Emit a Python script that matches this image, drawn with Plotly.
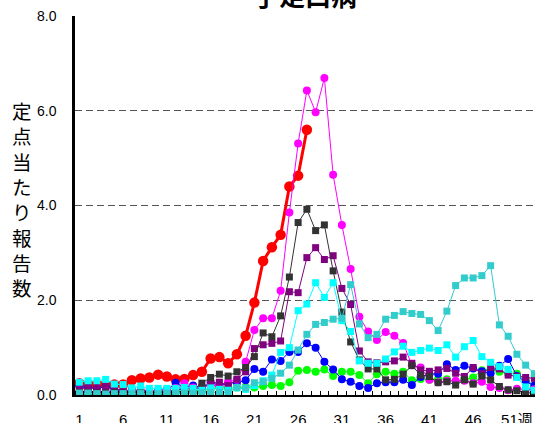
import plotly.graph_objects as go

weeks = list(range(1, 54))
tick_weeks = [1, 6, 11, 16, 21, 26, 31, 36, 41, 46, 51]
tick_labels = ["1", "6", "11", "16", "21", "26", "31", "36", "41", "46", "51週"]
y_ticks = [0, 2, 4, 6, 8]
y_tick_labels = ["0.0", "2.0", "4.0", "6.0", "8.0"]

red = [0.25, 0.22, 0.22, 0.22, 0.22, 0.22, 0.31, 0.35, 0.37, 0.43, 0.39, 0.33,
       0.34, 0.42, 0.49, 0.77, 0.80, 0.67, 0.86, 1.25, 1.95, 2.83, 3.12, 3.38,
       4.40, 4.63, 5.60]

magenta = [0.08, 0.08, 0.06, 0.08, 0.06, 0.08, 0.10, 0.10, 0.08, 0.10, 0.12, 0.15,
           0.25, 0.16, 0.18, 0.20, 0.21, 0.28, 0.32, 0.70, 1.37, 1.62, 1.62, 2.20,
           3.85, 5.31, 6.43, 5.97, 6.69, 4.65, 3.59, 2.66, 1.65, 1.34, 1.16, 1.33,
           1.25, 1.10, 0.63, 0.58, 0.32, 0.27, 0.30, 0.30, 0.30, 0.25, 0.28, 0.17,
           0.15, 0.10, 0.13, 0.12, 0.12]

darkgray = [0.05, 0.05, 0.04, 0.04, 0.05, 0.04, 0.04, 0.05, 0.04, 0.05, 0.05, 0.06,
            0.07, 0.10, 0.25, 0.37, 0.44, 0.40, 0.49, 0.58, 0.81, 1.31, 1.23, 1.67,
            2.49, 3.64, 3.92, 3.47, 3.59, 2.62, 1.75, 1.12, 0.74, 0.55, 0.55, 0.32,
            0.33, 0.44, 0.62, 0.42, 0.39, 0.26, 0.28, 0.21, 0.32, 0.23, 0.40, 0.32,
            0.18, 0.11, 0.09, 0.05, 0.04]

purple = [0.12, 0.15, 0.15, 0.18, 0.13, 0.10, 0.10, 0.09, 0.08, 0.08, 0.09, 0.10,
          0.13, 0.13, 0.15, 0.25, 0.27, 0.20, 0.33, 0.49, 0.98, 1.06, 1.09, 1.14,
          2.18, 2.16, 2.90, 3.11, 2.86, 2.94, 2.25, 1.91, 0.93, 0.70, 0.68, 0.70,
          0.72, 0.80, 0.67, 0.53, 0.50, 0.53, 0.56, 0.46, 0.39, 0.58, 0.45, 0.58,
          0.55, 0.42, 0.39, 0.37, 0.35]

cyan = [0.27, 0.30, 0.30, 0.33, 0.23, 0.22, 0.15, 0.19, 0.14, 0.14, 0.14, 0.14,
        0.16, 0.14, 0.10, 0.15, 0.12, 0.10, 0.15, 0.12, 0.20, 0.30, 0.42, 0.90,
        1.00, 1.78, 1.92, 2.37, 2.06, 2.37, 1.57, 1.34, 0.72, 0.67, 0.67, 0.76,
        0.91, 1.03, 0.90, 0.94, 0.99, 0.94, 1.06, 0.80, 1.02, 1.15, 0.81, 0.69,
        0.60, 0.54, 0.37, 0.17, 0.10]

teal = [0.04, 0.04, 0.03, 0.02, 0.03, 0.03, 0.03, 0.03, 0.02, 0.03, 0.04, 0.04,
        0.04, 0.04, 0.05, 0.05, 0.06, 0.05, 0.16, 0.15, 0.26, 0.28, 0.35, 0.46,
        0.63, 0.95, 1.28, 1.49, 1.53, 1.60, 1.62, 2.33, 1.50, 1.21, 1.28, 1.60,
        1.68, 1.76, 1.72, 1.70, 1.57, 1.36, 1.77, 2.31, 2.47, 2.47, 2.52, 2.73,
        1.48, 1.24, 0.86, 0.63, 0.45]

blue = [0.18, 0.15, 0.14, 0.18, 0.10, 0.08, 0.06, 0.06, 0.05, 0.06, 0.10, 0.26,
        0.15, 0.20, 0.15, 0.27, 0.20, 0.25, 0.26, 0.31, 0.55, 0.49, 0.75, 0.72,
        0.91, 0.91, 1.09, 1.00, 0.70, 0.54, 0.33, 0.28, 0.19, 0.15, 0.25, 0.27,
        0.27, 0.32, 0.21, 0.38, 0.44, 0.45, 0.65, 0.53, 0.62, 0.56, 0.50, 0.46,
        0.62, 0.76, 0.40, 0.28, 0.20]

green = [0.02, 0.02, 0.02, 0.02, 0.02, 0.02, 0.03, 0.03, 0.03, 0.04, 0.05, 0.06,
         0.07, 0.08, 0.10, 0.12, 0.16, 0.14, 0.16, 0.17, 0.16, 0.19, 0.21, 0.19,
         0.27, 0.51, 0.53, 0.49, 0.54, 0.40, 0.49, 0.49, 0.42, 0.25, 0.44, 0.49,
         0.45, 0.49, 0.31, 0.34, 0.32, 0.34, 0.33, 0.28, 0.33, 0.37, 0.52, 0.55,
         0.49, 0.45, 0.45, 0.34, 0.19]

y_title_chars = list("定点当たり報告数")

fig = go.Figure()

thin_series = [
    (green, "#00FF00", "circle", 8),
    (blue, "#0000FF", "circle", 8),
    (magenta, "#FF00FF", "circle", 8),
    (purple, "#800080", "square", 7),
    (darkgray, "#333333", "square", 7),
    (cyan, "#00FFFF", "square", 7),
    (teal, "#33CCCC", "square", 7),
]

fig.add_trace(go.Scatter(
    x=weeks[:len(red)], y=red, mode="lines+markers",
    line=dict(color="#FF0000", width=3),
    marker=dict(symbol="circle", size=10.5, color="#FF0000"),
    showlegend=False, hoverinfo="skip"))

for vals, col, sym, sz in thin_series:
    fig.add_trace(go.Scatter(
        x=weeks[:len(vals)], y=vals, mode="lines+markers",
        line=dict(color=col, width=1),
        marker=dict(symbol=sym, size=sz, color=col),
        showlegend=False, hoverinfo="skip"))

fig.update_layout(
    width=535, height=423,
    margin=dict(l=75, r=0, t=16, b=28),
    paper_bgcolor="white", plot_bgcolor="white",
    font=dict(family="Liberation Sans, Arial, 'Noto Sans CJK JP', sans-serif", color="black"),
    xaxis=dict(
        range=[0.5, 53.07], showgrid=False, zeroline=False, automargin=False,
        showline=True, linecolor="black", linewidth=2,
        tickmode="array", tickvals=tick_weeks, ticktext=tick_labels,
        ticks="", tickfont=dict(size=15, color="black"),
        ticklabelstandoff=10,
        minor=dict(ticks="inside", ticklen=4, tickcolor="black", tickwidth=1,
                   tick0=0.5, dtick=1, showgrid=False),
    ),
    yaxis=dict(
        range=[0, 8], showgrid=True, gridcolor="#555555", gridwidth=1,
        griddash="7px,4px", zeroline=False, automargin=False,
        showline=True, linecolor="black", linewidth=2.5,
        tickmode="array", tickvals=y_ticks, ticktext=y_tick_labels,
        ticks="", tickfont=dict(size=14, color="black"),
        ticklabelstandoff=13,
    ),
)

fig.add_annotation(
    text="手足口病", xref="paper", yref="paper", x=0.5, y=1.057,
    xanchor="center", yanchor="middle", showarrow=False,
    font=dict(family="Noto Sans CJK JP", size=26, color="black", weight="bold"))

# vertical y-axis title, one upright character per line
fig.add_annotation(
    text="<br>".join(y_title_chars), xref="paper", yref="paper",
    x=-0.115, y=0.517, xanchor="center", yanchor="middle", showarrow=False,
    font=dict(family="Noto Sans CJK JP", size=19.5, color="black"))

fig.write_html("out.html", config={"displayModeBar": False},
               post_script="document.body.style.margin='0';")
